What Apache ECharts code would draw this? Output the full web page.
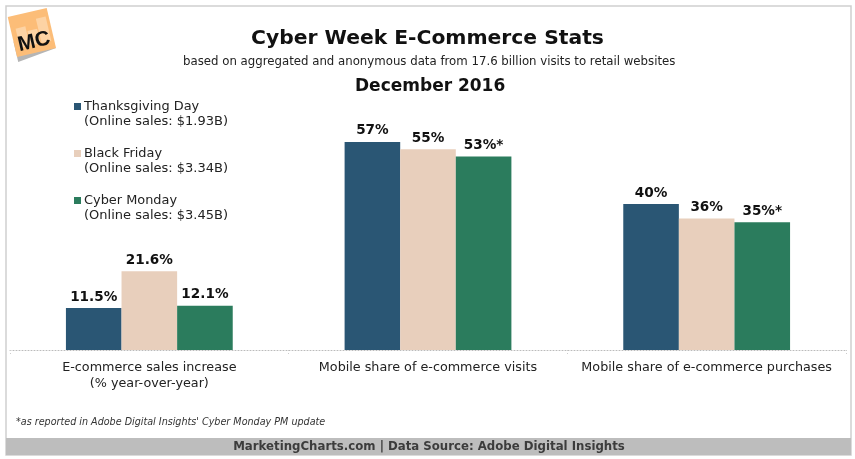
<!DOCTYPE html>
<html lang="en">
<head>
<meta charset="UTF-8">
<title>Cyber Week E-Commerce Stats</title>
<script src="https://cdn.jsdelivr.net/npm/echarts@6/dist/echarts.min.js"></script>
<style>
    html, body { margin: 0; padding: 0; background: #fff; }
    #chart { width: 855px; height: 459px; }
</style>
</head>
<body>
<div id="chart"></div>
<script>
var categories = ['E-commerce sales increase\n(% year-over-year)', 'Mobile share of e-commerce visits', 'Mobile share of e-commerce purchases'];
var thanksgiving = [11.5, 57, 40];
var blackFriday = [21.6, 55, 36];
var cyberMonday = [12.1, 53, 35];
var cyberMondayMarks = ['', '*', '*'];
var seriesNames = ['Thanksgiving Day', 'Black Friday', 'Cyber Monday'];
var onlineSales = ['(Online sales: $1.93B)', '(Online sales: $3.34B)', '(Online sales: $3.45B)'];

var font = '"DejaVu Sans", Verdana, sans-serif';
var chart = echarts.init(document.getElementById('chart'));

function barSeries(name, values, color, marks) {
    return {
        name: name,
        type: 'bar',
        data: values,
        barWidth: 55.6,
        barGap: 0,
        itemStyle: { color: color },
        label: {
            show: true,
            position: 'top',
            distance: 4,
            fontFamily: font,
            fontSize: 13.6,
            fontWeight: 'bold',
            color: '#111',
            formatter: function (p) {
                return p.value + '%' + (marks ? marks[p.dataIndex] : '');
            }
        }
    };
}

// second line of each legend entry
var salesLines = onlineSales.map(function (t, i) {
    return {
        type: 'text', left: 84, top: 115 + i * 47,
        style: { text: t, font: '13px ' + font, fill: '#222' }
    };
});

var option = {
    animation: false,
    backgroundColor: '#fff',
    title: [
        { text: 'Cyber Week E-Commerce Stats', left: 'center', top: 24,
          textStyle: { fontFamily: font, fontSize: 20.3, fontWeight: 'bold', color: '#111' } },
        { text: 'based on aggregated and anonymous data from 17.6 billion visits to retail websites', left: 178, top: 51,
          textStyle: { fontFamily: font, fontSize: 11.75, fontWeight: 'normal', color: '#222' } },
        { text: 'December 2016', left: 350, top: 73,
          textStyle: { fontFamily: font, fontSize: 17, fontWeight: 'bold', color: '#111' } }
    ],
    legend: {
        orient: 'vertical',
        left: 74,
        top: 99,
        itemWidth: 7,
        itemHeight: 7,
        itemGap: 32,
        icon: 'rect',
        selectedMode: false,
        padding: 0,
        data: seriesNames,
        textStyle: { fontFamily: font, fontSize: 12.9, color: '#222', padding: [0, 0, 0, -2], lineHeight: 15 }
    },
    grid: { left: 10, right: 9, top: 131, height: 219 },
    xAxis: {
        type: 'category',
        data: categories,
        axisLine: { lineStyle: { color: '#bbbbbb', type: [1, 2], width: 1 } },
        axisTick: { show: true, length: 4, lineStyle: { color: '#cccccc', type: [1, 2] } },
        axisLabel: { fontFamily: font, fontSize: 12.75, color: '#222', lineHeight: 15.5, margin: 10, interval: 0 }
    },
    yAxis: { type: 'value', min: 0, max: 60, show: false, splitLine: { show: false } },
    series: [
        barSeries(seriesNames[0], thanksgiving, '#2a5674'),
        barSeries(seriesNames[1], blackFriday, '#e8cfbc'),
        barSeries(seriesNames[2], cyberMonday, '#2b7c5d', cyberMondayMarks)
    ],
    graphic: [
        // frame and footer
        { type: 'rect', z: -10, shape: { x: 6, y: 6, width: 845, height: 449 },
          style: { fill: '#fff', stroke: '#cfcfcf', lineWidth: 1.5 } },
        { type: 'rect', z: -9, shape: { x: 6, y: 438, width: 845, height: 17 },
          style: { fill: '#bdbdbd' } },
        { type: 'text', z: 5, x: 429, y: 447,
          style: { text: 'MarketingCharts.com | Data Source: Adobe Digital Insights', font: 'bold 11.75px ' + font, fill: '#3c3c3c', align: 'center', verticalAlign: 'middle' } },
        { type: 'text', left: 16, top: 417,
          style: { text: "*as reported in Adobe Digital Insights' Cyber Monday PM update", font: 'italic 9.6px ' + font, fill: '#333' } },
        // MC logo
        { type: 'group', x: 32, y: 33, rotation: 0.23, children: [
            { type: 'polygon', shape: { points: [[-20, 4], [-20, 25], [20, 20]] }, style: { fill: '#b5b5b5' } },
            { type: 'rect', shape: { x: -20, y: -21, width: 40, height: 41 }, style: { fill: '#fcbd78' } },
            { type: 'rect', shape: { x: -15, y: -8, width: 10, height: 20 }, style: { fill: '#fdd3a4' } },
            { type: 'rect', shape: { x: -4, y: -3, width: 10, height: 15 }, style: { fill: '#fdd3a4' } },
            { type: 'rect', shape: { x: 7, y: -13, width: 10, height: 25 }, style: { fill: '#fdd3a4' } },
            { type: 'text', x: 0, y: 9,
              style: { text: 'MC', font: 'bold 21px "Liberation Sans", sans-serif', fill: '#111', align: 'center', verticalAlign: 'middle' } }
        ] }
    ].concat(salesLines)
};

chart.setOption(option);
</script>
</body>
</html>
